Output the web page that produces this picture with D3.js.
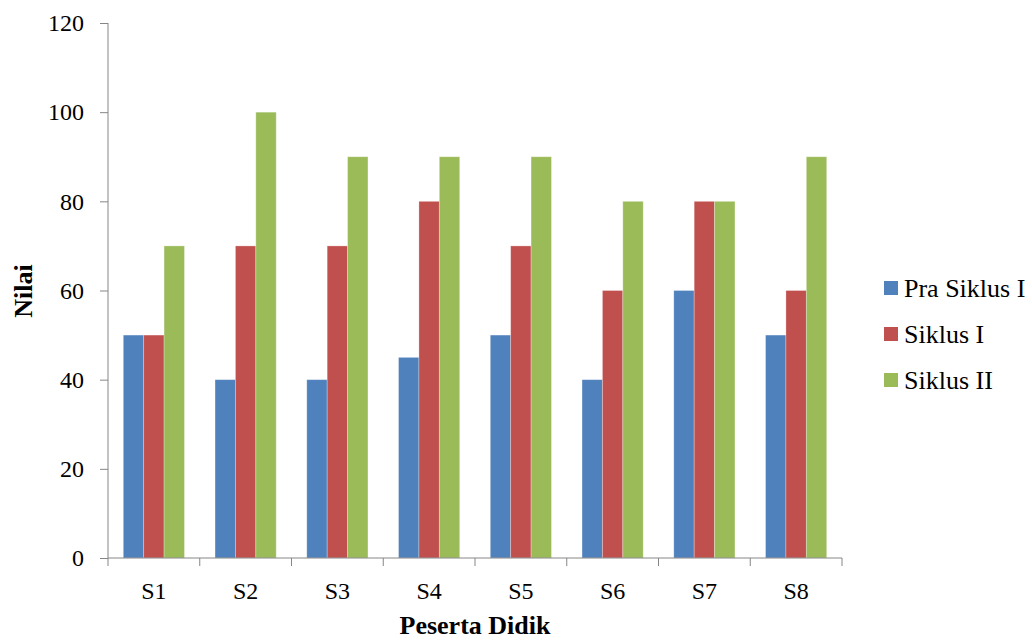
<!DOCTYPE html>
<html>
<head>
<meta charset="utf-8">
<script src="https://cdn.jsdelivr.net/npm/d3@7"></script>
<style>
  body { margin: 0; background: #fff; }
  text { font-family: "Liberation Serif", "Times New Roman", serif; fill: #000; }
</style>
</head>
<body>
<div id="chart"></div>
<script>
// Data
var categories = ["S1", "S2", "S3", "S4", "S5", "S6", "S7", "S8"];
var seriesNames = ["Pra Siklus I", "Siklus I", "Siklus II"];
var praSiklus = [50, 40, 40, 45, 50, 40, 60, 50];
var siklus1 = [50, 70, 70, 80, 70, 60, 80, 60];
var siklus2 = [70, 100, 90, 90, 90, 80, 80, 90];
var yTicks = [0, 20, 40, 60, 80, 100, 120];
var colors = ["#4F81BD", "#C0504D", "#9BBB59"];

var svgWidth = 1032;
var svgHeight = 640;
var margin = { top: 23, right: 190, bottom: 82, left: 108 };
var width = 842 - margin.left;
var height = 558 - margin.top;

var svg = d3.select("#chart")
    .append("svg")
    .attr("width", svgWidth)
    .attr("height", svgHeight);

var chartGroup = svg.append("g")
    .attr("transform", `translate(${margin.left}, ${margin.top})`);

var allSeries = [praSiklus, siklus1, siklus2];
var data = categories.map(function(c, i) {
    return { cat: c, values: allSeries.map(function(s) { return s[i]; }) };
});

// x scale: gap width 150% -> 1.5 bar widths of gap per group
var x0 = d3.scaleBand()
    .domain(categories)
    .range([0, width])
    .paddingInner(0)
    .paddingOuter(0);

var barW = x0.bandwidth() / 4.5;
var x1 = d3.scaleBand()
    .domain(d3.range(seriesNames.length))
    .range([barW * 0.75, barW * 3.75]);

var y = d3.scaleLinear()
    .domain([0, 120])
    .range([height, 0]);

// bars
var groups = chartGroup.selectAll(".grp")
    .data(data)
    .enter()
    .append("g")
    .attr("transform", d => `translate(${x0(d.cat)}, 0)`);

groups.selectAll("rect")
    .data(d => d.values)
    .enter()
    .append("rect")
    .attr("x", (d, i) => x1(i))
    .attr("y", d => y(d))
    .attr("width", x1.bandwidth())
    .attr("height", d => height - y(d))
    .attr("fill", (d, i) => colors[i])
    .attr("stroke", "rgba(255,255,255,0.35)")
    .attr("stroke-width", 0.8);

// y axis
var leftAxis = d3.axisLeft(y)
    .tickValues(yTicks)
    .tickSize(8)
    .tickPadding(16);

var yAxis = chartGroup.append("g")
    .call(leftAxis);

yAxis.select(".domain").attr("stroke", "#868686").attr("d", `M0,0V${height}`);
yAxis.selectAll(".tick line").attr("stroke", "#868686");
yAxis.selectAll(".tick text")
    .style("font-size", "24px")
    .style("font-family", "Liberation Serif, serif")
    .attr("fill", "#000");

// x axis: ticks at category boundaries
var xAxisG = chartGroup.append("g")
    .attr("transform", `translate(0, ${height})`);

xAxisG.append("line")
    .attr("x1", 0)
    .attr("x2", width)
    .attr("stroke", "#868686");

xAxisG.selectAll(".xt")
    .data(categories.concat(["end"]))
    .enter()
    .append("line")
    .attr("x1", (d, i) => i * x0.step())
    .attr("x2", (d, i) => i * x0.step())
    .attr("y1", 0)
    .attr("y2", 8)
    .attr("stroke", "#868686");

xAxisG.selectAll(".xl")
    .data(categories)
    .enter()
    .append("text")
    .attr("x", d => x0(d) + x0.bandwidth() / 2)
    .attr("y", 41)
    .attr("text-anchor", "middle")
    .style("font-size", "24px")
    .text(d => d);

// axis titles
svg.append("text")
    .attr("transform", "rotate(-90)")
    .attr("x", -291)
    .attr("y", 32)
    .attr("text-anchor", "middle")
    .style("font-size", "26px")
    .style("font-weight", "bold")
    .text("Nilai");

svg.append("text")
    .attr("x", 475)
    .attr("y", 634)
    .attr("text-anchor", "middle")
    .style("font-size", "26px")
    .style("font-weight", "bold")
    .text("Peserta Didik");

// legend
var legend = svg.append("g")
    .attr("transform", "translate(884, 288)");

var items = legend.selectAll(".lg")
    .data(seriesNames)
    .enter()
    .append("g")
    .attr("transform", (d, i) => `translate(0, ${i * 46})`);

items.append("rect")
    .attr("x", 0)
    .attr("y", -7)
    .attr("width", 14)
    .attr("height", 14)
    .attr("fill", (d, i) => colors[i]);

items.append("text")
    .attr("x", 20)
    .attr("y", 9)
    .style("font-size", "26px")
    .text(d => d);
</script>
</body>
</html>
